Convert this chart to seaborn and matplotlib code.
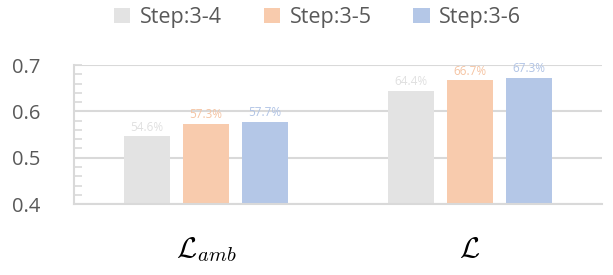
import matplotlib
matplotlib.use("Agg")
import matplotlib.pyplot as plt
import seaborn as sns
import pandas as pd
from matplotlib.ticker import MultipleLocator
from matplotlib.patches import Patch

categories = [r"$\mathcal{L}_{amb}$", r"$\mathcal{L}$"]
series_names = ["Step:3-4", "Step:3-5", "Step:3-6"]
step_3_4 = [0.546, 0.644]
step_3_5 = [0.573, 0.667]
step_3_6 = [0.577, 0.673]
colors = ["#E3E3E3", "#F8CBAD", "#B4C7E7"]
label_colors = ["#E0E0E0", "#F5C4A3", "#B0C3E5"]

rows = []
for name, vals in zip(series_names, [step_3_4, step_3_5, step_3_6]):
    for c, v in zip(categories, vals):
        rows.append({"cat": c, "series": name, "value": v})
df = pd.DataFrame(rows)

sns.set_theme(style="white")
plt.rcParams["font.family"] = ["Open Sans", "DejaVu Sans"]
plt.rcParams["mathtext.fontset"] = "cm"

fig = plt.figure(figsize=(6.13, 2.75), dpi=100)
ax = fig.add_axes([0.1207, 0.258, 0.8613, 0.5056])

sns.barplot(data=df, x="cat", y="value", hue="series", palette=colors,
            width=0.67, gap=0.22, ax=ax, legend=False, saturation=1,
            edgecolor="none", linewidth=0)

ax.set_ylim(0.4, 0.7)
ax.set_xlim(-0.5, 1.5)
ax.yaxis.set_major_locator(MultipleLocator(0.1))
ax.yaxis.set_minor_locator(MultipleLocator(0.02))
ax.yaxis.grid(True, which="major", color="#D9D9D9", linewidth=1.5)
ax.set_axisbelow(True)
ax.tick_params(axis="y", which="minor", direction="in", length=6,
               color="#D9D9D9", width=1.2, left=True)
ax.tick_params(axis="y", which="major", direction="in", length=6,
               color="#D9D9D9", width=1.2, left=True, labelsize=14.5,
               labelcolor="#595959", pad=24)
ax.tick_params(axis="x", length=0, labelsize=21, labelcolor="black", pad=22)
for s in ["top", "right"]:
    ax.spines[s].set_visible(False)
ax.spines["left"].set_color("#D9D9D9")
ax.spines["left"].set_linewidth(1.5)
ax.spines["bottom"].set_color("#D9D9D9")
ax.spines["bottom"].set_linewidth(1.5)
ax.set_xlabel("")
ax.set_ylabel("")

for cont, lc in zip(ax.containers, label_colors):
    ax.bar_label(cont, labels=[f"{v*100:.1f}%" for v in cont.datavalues],
                 color=lc, fontsize=8.5, padding=2, clip_on=False)

handles = [Patch(facecolor=c, edgecolor="none") for c in colors]
fig.legend(handles, series_names, loc="upper center", ncol=3,
           bbox_to_anchor=(0.518, 1.045), frameon=False, fontsize=15.5,
           handlelength=0.75, handleheight=0.75, handletextpad=0.45,
           columnspacing=1.95, labelcolor="#595959")

fig.savefig("out.png", dpi=100)
